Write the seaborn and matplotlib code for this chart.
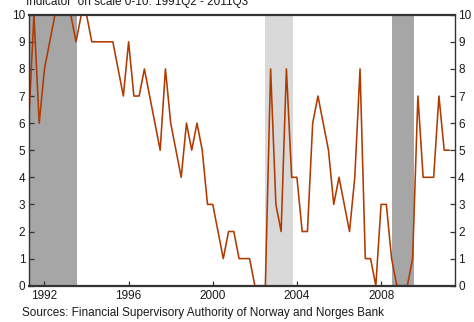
import matplotlib
matplotlib.use("Agg")
import matplotlib.pyplot as plt
import seaborn as sns
import pandas as pd

# Quarterly indicator, 0-10 scale, starting 1991Q2
start_quarter = "1991Q2"
indicator = [6, 10, 6, 8, 9, 10, 10, 10, 10, 9, 10, 10, 9, 9, 9, 9, 9,
             8, 7, 9, 7, 7, 8, 7, 6, 5, 8, 6, 5, 4, 6, 5, 6, 5, 3, 3,
             2, 1, 2, 2, 1, 1, 1, 0, 0, 0, 8, 3, 2, 8, 4, 4, 2, 2, 6,
             7, 6, 5, 3, 4, 3, 2, 4, 8, 1, 1, 0, 3, 3, 1, 0, 0, 0, 1,
             7, 4, 4, 4, 7, 5, 5]

# Shaded periods (start, end, colour)
band_starts = [1991.25, 2002.50, 2008.54]
band_ends = [1993.55, 2003.82, 2009.57]
band_colors = ["#a6a6a6", "#d9d9d9", "#a6a6a6"]

year_ticks = [1992, 1996, 2000, 2004, 2008]
value_ticks = list(range(0, 11))

title = "Indicator  on scale 0-10. 1991Q2 - 2011Q3"
source = "Sources: Financial Supervisory Authority of Norway and Norges Bank"

periods = pd.period_range(start_quarter, periods=len(indicator), freq="Q")
df = pd.DataFrame({
    "time": periods.year + (periods.quarter - 1) / 4.0,
    "value": indicator,
})

sns.set_style("white")
plt.rcParams["font.family"] = ["Liberation Sans", "DejaVu Sans"]
plt.rcParams["font.size"] = 8.5

fig = plt.figure(figsize=(4.74, 3.22), dpi=100)
ax = fig.add_axes([0.0605, 0.1127, 0.8988, 0.8416])

for s, e, c in zip(band_starts, band_ends, band_colors):
    ax.axvspan(s, e, color=c, lw=0, zorder=0)

sns.lineplot(data=df, x="time", y="value", ax=ax, color="#b03a00",
             linewidth=1.15, zorder=3)

ax.set_xlim(1991.25, 2011.5)
ax.set_ylim(0, 10)
ax.set_xticks(year_ticks)
ax.set_xticklabels([str(y) for y in year_ticks])
ax.set_yticks(value_ticks)
ax.set_xlabel("")
ax.set_ylabel("")

ax.tick_params(axis="both", direction="in", length=3.5, width=0.9,
               color="#333333", labelcolor="#1a1a1a", labelsize=8.5)
ax.tick_params(axis="y", left=True, right=True, labelleft=True,
               labelright=True, pad=2.5)
ax.tick_params(axis="x", bottom=True, top=False, pad=3)

for side in ["left", "right"]:
    ax.spines[side].set_color("#333333")
    ax.spines[side].set_linewidth(1.0)
for side in ["top", "bottom"]:
    ax.spines[side].set_color("#333333")
    ax.spines[side].set_linewidth(1.6)
for sp in ax.spines.values():
    sp.set_zorder(4)

fig.text(26 / 474, 1 - 5 / 322, title, ha="left", va="baseline",
         fontsize=8.5, color="#1a1a1a")
fig.text(22.5 / 474, 1 - 316 / 322, source, ha="left", va="baseline",
         fontsize=8.5, color="#1a1a1a")

fig.savefig("out.png", dpi=100)
